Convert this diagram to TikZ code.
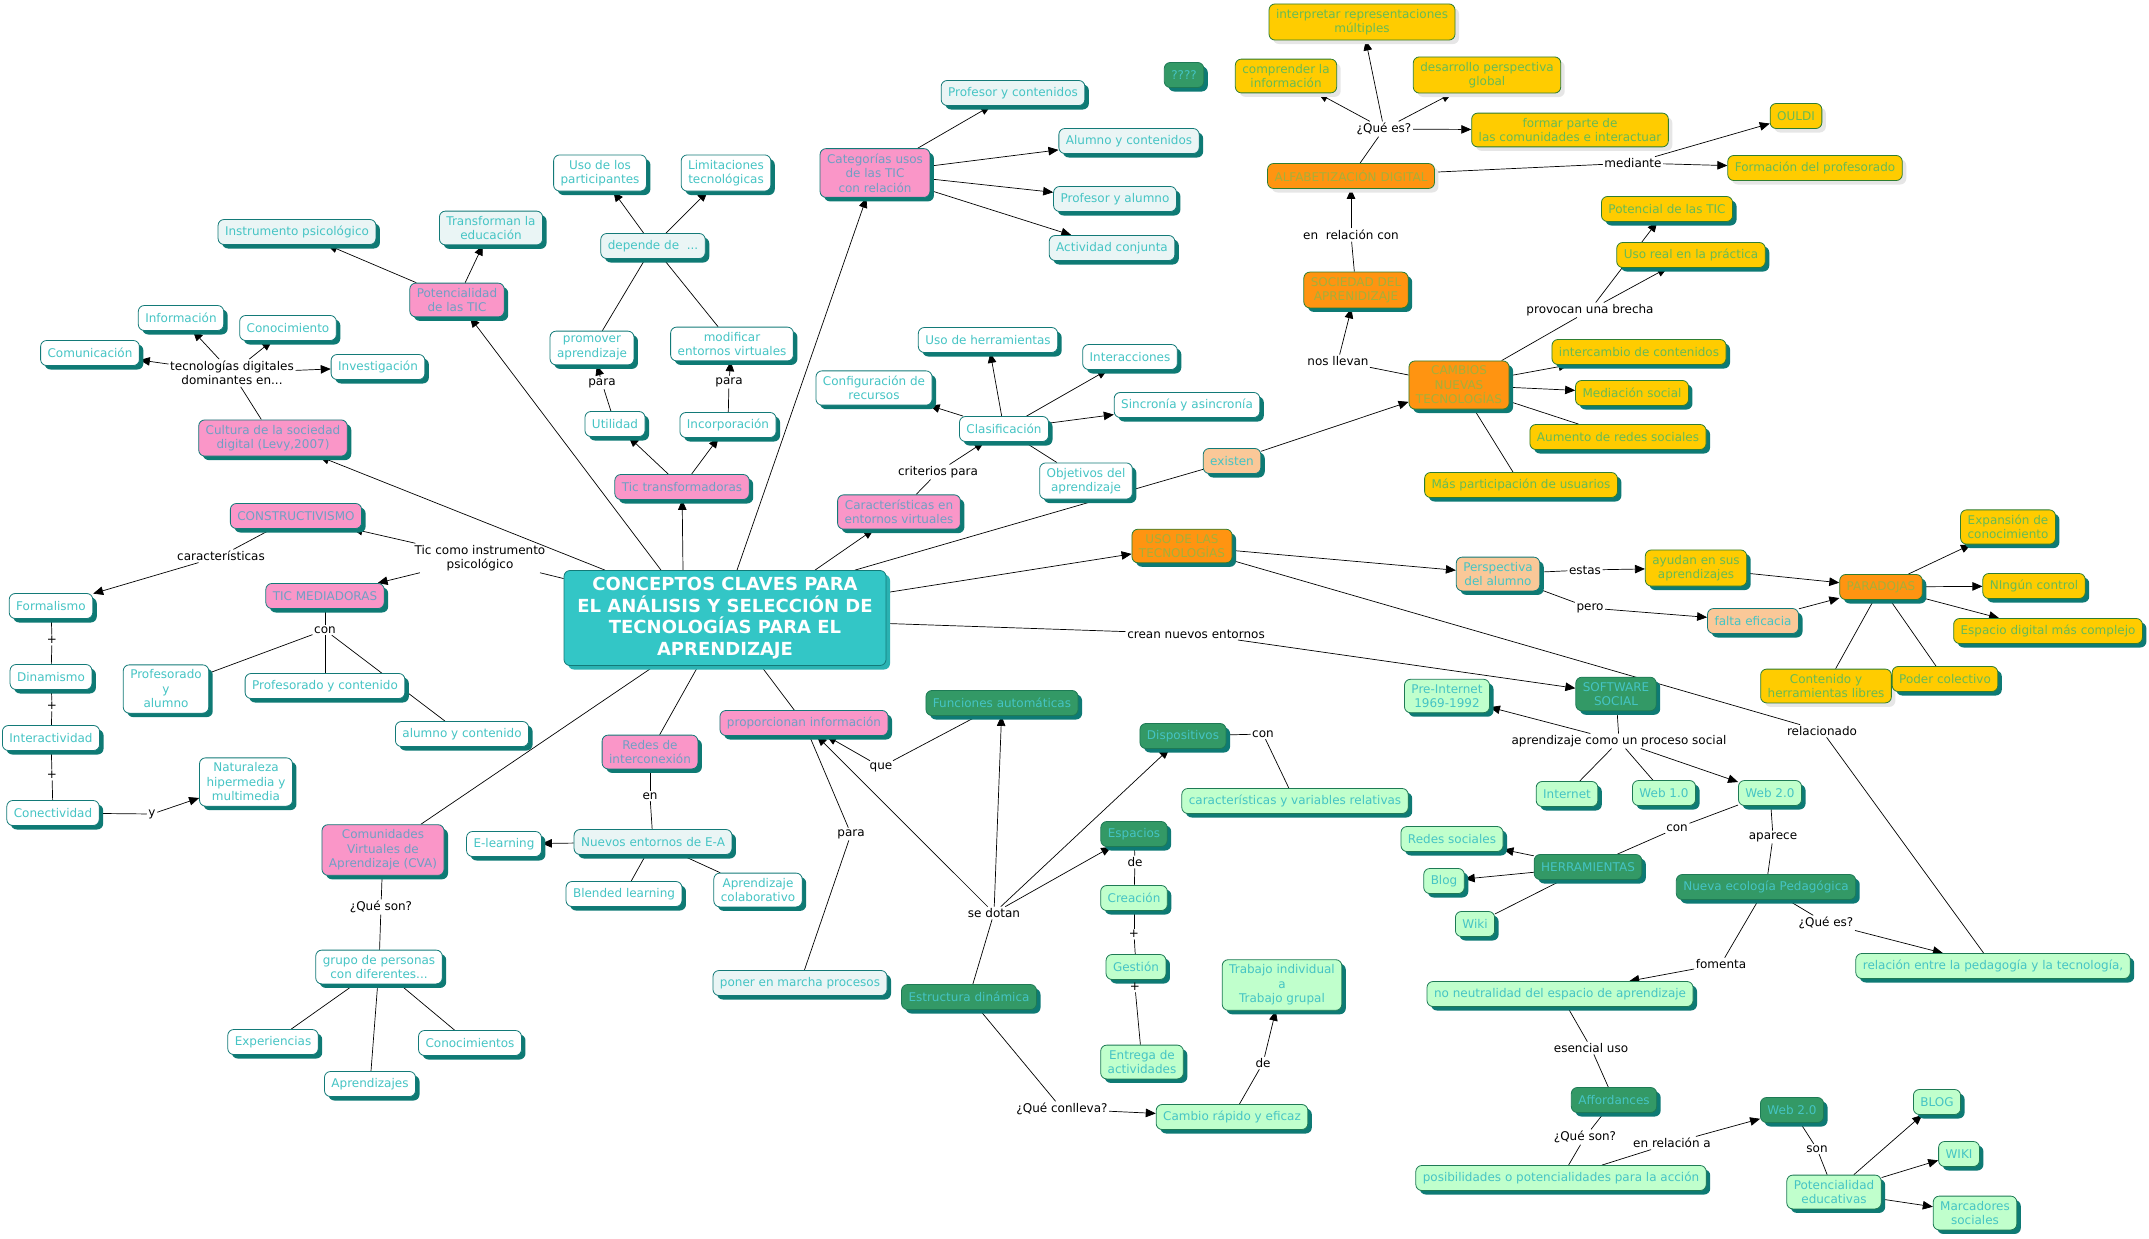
\documentclass[tikz,border=0pt]{standalone}
\usepackage{fontspec}
\setmainfont{DejaVu Sans}
\usetikzlibrary{shadows,arrows.meta}
\pgfdeclarelayer{background}
\pgfsetlayers{background,main}
\definecolor{tealtxt}{HTML}{45C4C4}
\definecolor{bordert}{HTML}{137A78}
\definecolor{shteal}{HTML}{0E7A74}
\definecolor{shgray}{HTML}{E6E6E6}
\definecolor{lightblue}{HTML}{EAF5F5}
\definecolor{pinkf}{HTML}{FA96C8}
\definecolor{pinktxt}{HTML}{6F9FC4}
\definecolor{orangef}{HTML}{FF9411}
\definecolor{orangetxt}{HTML}{A4B03A}
\definecolor{yellowf}{HTML}{FFCC00}
\definecolor{greentxt}{HTML}{66BB55}
\definecolor{ygborder}{HTML}{2E7D32}
\definecolor{peach}{HTML}{FAC898}
\definecolor{darkg}{HTML}{339966}
\definecolor{darkgb}{HTML}{1E7A55}
\definecolor{lightg}{HTML}{C0FFCC}
\definecolor{centralf}{HTML}{33C6C6}
\definecolor{cshadow}{HTML}{2AB2B2}
\newcommand\fsz{\fontsize{12}{14.5}\selectfont}
\tikzset{
  base/.style={rounded corners=6pt, draw=bordert, line width=0.8pt, align=center, font=\fsz,
    text=tealtxt, inner xsep=7pt, inner ysep=5pt, minimum height=25pt},
  shT/.style={drop shadow={shadow xshift=4pt,shadow yshift=-4pt,fill=shteal,opacity=1}},
  shG/.style={drop shadow={shadow xshift=4pt,shadow yshift=-4pt,fill=shgray,opacity=1}},
  wbox/.style={base, fill=white, shT},
  bbox/.style={base, fill=lightblue, shT},
  pbox/.style={base, fill=pinkf, text=pinktxt, shT},
  obox/.style={base, fill=orangef, text=orangetxt, draw=ygborder, shT},
  oboxg/.style={base, fill=orangef, text=orangetxt, draw=ygborder, shG},
  ybox/.style={base, fill=yellowf, text=greentxt, draw=ygborder, shT},
  yboxg/.style={base, fill=yellowf, text=greentxt, draw=ygborder, shG},
  cbox/.style={base, fill=peach, shT},
  dbox/.style={base, fill=darkg, draw=darkgb, shT},
  lbox/.style={base, fill=lightg, draw=darkgb, shT},
  lbl/.style={font=\fsz, text=black, inner sep=1.5pt, align=center},
  ln/.style={draw, line width=0.7pt},
  ar/.style={draw, line width=0.7pt, -{Triangle[length=10pt,width=8.5pt]}},
}
\begin{document}
\begin{tikzpicture}[x=1pt,y=-1pt]
\useasboundingbox (0,0) rectangle (2149,1239);
% central
\node[draw=bordert, line width=0.8pt, fill=centralf, rounded corners=6pt, text=white,
  font=\fontsize{18}{21.7}\selectfont\bfseries, align=center, minimum width=322pt,
  minimum height=95pt, drop shadow={shadow xshift=4pt,shadow yshift=-4pt,fill=cshadow,opacity=1}]
  (central) at (725,618) {CONCEPTOS CLAVES PARA\\EL ANÁLISIS Y SELECCIÓN DE\\TECNOLOGÍAS PARA EL\\APRENDIZAJE};
% left top
\node[bbox] (instr) at (297,232) {Instrumento psicológico};
\node[bbox] (transf) at (491,228) {Transforman la\\educación};
\node[pbox] (potic) at (457,300) {Potencialidad\\de las TIC};
\node[wbox] (info) at (181,318) {Información};
\node[wbox] (conoc) at (288,328) {Conocimiento};
\node[wbox] (comun) at (90,353) {Comunicación};
\node[wbox] (inves) at (378,367) {Investigación};
\node[pbox] (cultura) at (273,438) {Cultura de la sociedad\\digital (Levy,2007)};
\node[lbl] (lblTec) at (232,373) {tecnologías digitales\\dominantes en...};
% depende
\node[wbox] (usopart) at (600,173) {Uso de los\\participantes};
\node[wbox] (limit) at (726,173) {Limitaciones\\tecnológicas};
\node[bbox] (depende) at (653,246) {depende de~~...};
\node[wbox] (promover) at (592,348) {promover\\aprendizaje};
\node[wbox] (modif) at (732,344) {modificar\\entornos virtuales};
\node[lbl] (para1) at (602,383) {para};
\node[lbl] (para2) at (729,382) {para};
\node[wbox] (util) at (615,424) {Utilidad};
\node[wbox] (incorp) at (728,425) {Incorporación};
\node[pbox] (tictr) at (682,487) {Tic transformadoras};
% categorias
\node[pbox] (categ) at (875,173) {Categorías usos\\de las TIC\\con relación};
\node[bbox] (profcont) at (1013,93) {Profesor y contenidos};
\node[bbox] (alucont) at (1129,141) {Alumno y contenidos};
\node[bbox] (profalu) at (1115,199) {Profesor y alumno};
\node[bbox] (actconj) at (1112,248) {Actividad conjunta};
% clasificacion
\node[wbox] (usoherr) at (988,340) {Uso de herramientas};
\node[wbox] (config) at (874,388) {Configuración de\\recursos};
\node[wbox] (interac) at (1130,357) {Interacciones};
\node[wbox] (sincr) at (1187,405) {Sincronía y asincronía};
\node[wbox] (clasif) at (1004,429) {Clasificación};
\node[wbox] (objet) at (1086,481) {Objetivos del\\aprendizaje};
\node[lbl] (crit) at (938,472) {criterios para};
\node[pbox] (caract) at (899,512) {Características en\\entornos virtuales};
% top right
\node[dbox] (qqq) at (1184,75) {????};
\node[yboxg] (interp) at (1362,22) {interpretar representaciones\\múltiples};
\node[yboxg] (compr) at (1286,76) {comprender la\\información};
\node[yboxg] (desarr) at (1487,75) {desarrollo perspectiva\\global};
\node[yboxg] (formar) at (1570,130) {formar parte de\\las comunidades e interactuar};
\node[lbl] (queEs) at (1384,129) {¿Qué es?};
\node[oboxg] (alfa) at (1351,176) {ALFABETIZACIÓN DIGITAL};
\node[lbl] (mediante) at (1633,163) {mediante};
\node[yboxg] (ouldi) at (1796,116) {OULDI};
\node[yboxg] (formac) at (1815,168) {Formación del profesorado};
\node[lbl] (enrel) at (1351,235) {en~ relación con};
\node[obox] (socied) at (1356,290) {SOCIEDAD DEL\\APRENIDIZAJE};
\node[lbl] (nosll) at (1338,361) {nos llevan};
\node[obox] (cambios) at (1459,385) {CAMBIOS\\NUEVAS\\TECNOLOGÍAS};
\node[ybox] (potencial) at (1667,209) {Potencial de las TIC};
\node[ybox] (usoreal) at (1691,255) {Uso real en la práctica};
\node[lbl] (provocan) at (1590,310) {provocan una brecha};
\node[ybox] (intercam) at (1639,352) {intercambio de contenidos};
\node[ybox] (mediac) at (1632,393) {Mediación social};
\node[ybox] (aumento) at (1618,437) {Aumento de redes sociales};
\node[ybox] (maspart) at (1521,485) {Más participación de usuarios};
\node[cbox] (existen) at (1232,461) {existen};
% uso de las tecnologias
\node[obox] (usotec) at (1182,546) {USO DE LAS\\TECNOLOGÍAS};
\node[cbox] (perspec) at (1498,574) {Perspectiva\\del alumno};
\node[lbl] (estas) at (1585,570) {estas};
\node[lbl] (pero) at (1590,608) {pero};
\node[ybox] (ayudan) at (1696,568) {ayudan en sus\\aprendizajes};
\node[cbox] (falta) at (1753,621) {falta eficacia};
\node[obox] (parad) at (1881,587) {PARADOJAS};
\node[ybox] (expans) at (2008,527) {Expansión de\\conocimiento};
\node[ybox] (ningun) at (2034,586) {NIngún control};
\node[ybox] (espacio) at (2048,631) {Espacio digital más complejo};
\node[yboxg] (conten) at (1826,686) {Contenido y\\herramientas libres};
\node[ybox] (poder) at (1945,679) {Poder colectivo};
\node[lbl] (relacionado) at (1822,731) {relacionado};
\node[lbl] (crean) at (1196,634) {crean nuevos entornos};
% software social
\node[lbox] (preint) at (1447,696) {Pre-Internet\\1969-1992};
\node[dbox] (software) at (1616,694) {SOFTWARE\\SOCIAL};
\node[lbl] (aprsoc) at (1619,741) {aprendizaje como un proceso social};
\node[lbox] (internet) at (1567,794) {Internet};
\node[lbox] (web1) at (1664,793) {Web 1.0};
\node[lbox] (web2) at (1770,793) {Web 2.0};
\node[lbl] (con2) at (1677,828) {con};
\node[lbl] (aparece) at (1773,837) {aparece};
\node[lbox] (redsoc) at (1452,839) {Redes sociales};
\node[lbox] (blog) at (1444,881) {Blog};
\node[lbox] (wiki) at (1475,924) {Wiki};
\node[dbox] (herram) at (1588,867) {HERRAMIENTAS};
\node[dbox] (nueva) at (1766,887) {Nueva ecología Pedagógica};
\node[lbl] (queEs2) at (1826,923) {¿Qué es?};
\node[lbox] (relac) at (1993,966) {relación entre la pedagogía y la tecnología,};
\node[lbl] (fomenta) at (1721,964) {fomenta};
\node[lbox] (noneut) at (1560,994) {no neutralidad del espacio de aprendizaje};
\node[lbl] (esencial) at (1591,1048) {esencial uso};
\node[dbox] (afford) at (1614,1100) {Affordances};
\node[lbl] (queSon2) at (1585,1137) {¿Qué son?};
\node[lbox] (posib) at (1561,1178) {posibilidades o potencialidades para la acción};
\node[lbl] (enrela) at (1672,1143) {en relación a};
\node[dbox] (webdos) at (1792,1110) {Web 2.0};
\node[lbl] (son) at (1817,1149) {son};
\node[lbox] (potedu) at (1834,1192) {Potencialidad\\educativas};
\node[lbox] (blogc) at (1937,1102) {BLOG};
\node[lbox] (wikic) at (1959,1154) {WIKI};
\node[lbox] (marc) at (1975,1213) {Marcadores\\sociales};
% bottom middle
\node[dbox] (funcion) at (1002,703) {Funciones automáticas};
\node[pbox] (propor) at (804,723) {proporcionan información};
\node[lbl] (que) at (881,767) {que};
\node[lbl] (para3) at (851,834) {para};
\node[bbox] (poner) at (800,983) {poner en marcha procesos};
\node[dbox] (estruct) at (969,997) {Estructura dinámica};
\node[lbl] (sedotan) at (994,913) {se dotan};
\node[lbl] (conlleva) at (1062,1109) {¿Qué conlleva?};
\node[dbox] (dispos) at (1183,736) {Dispositivos};
\node[lbl] (conD) at (1263,734) {con};
\node[lbox] (caracvar) at (1295,801) {características y variables relativas};
\node[dbox] (espacios) at (1134,834) {Espacios};
\node[lbl] (deE) at (1135,862) {de};
\node[lbox] (creac) at (1134,898) {Creación};
\node[lbl] (plusC) at (1134,934) {+};
\node[lbox] (gestion) at (1136,967) {Gestión};
\node[lbl] (plusG) at (1135,987) {+};
\node[lbox] (entrega) at (1142,1062) {Entrega de\\actividades};
\node[lbox] (trabajo) at (1282,985) {Trabajo individual\\a\\Trabajo grupal};
\node[lbl] (deT) at (1263,1063) {de};
\node[lbox] (cambio) at (1232,1117) {Cambio rápido y eficaz};
\node[pbox] (redes) at (650,752) {Redes de\\interconexión};
\node[lbl] (en) at (650,796) {en};
\node[bbox] (nuevos) at (653,842) {Nuevos entornos de E-A};
\node[wbox] (blended) at (624,894) {Blended learning};
\node[wbox] (aprcol) at (758,890) {Aprendizaje\\colaborativo};
% bottom left
\node[pbox] (cva) at (383,850) {Comunidades\\Virtuales de\\Aprendizaje (CVA)};
\node[wbox] (elearn) at (504,844) {E-learning};
\node[lbl] (queSon1) at (381,907) {¿Qué son?};
\node[wbox] (grupo) at (379,967) {grupo de personas\\con diferentes...};
\node[wbox] (exper) at (273,1042) {Experiencias};
\node[wbox] (conocs) at (470,1043) {Conocimientos};
\node[wbox] (aprends) at (370,1084) {Aprendizajes};
% left middle
\node[pbox] (constr) at (296,516) {CONSTRUCTIVISMO};
\node[lbl] (lblCar) at (221,556) {características};
\node[lbl] (lblTic) at (480,558) {Tic como instrumento\\psicológico};
\node[pbox] (ticmed) at (325,596) {TIC MEDIADORAS};
\node[lbl] (con1) at (325,630) {con};
\node[wbox] (formal) at (51,606) {Formalismo};
\node[lbl] (plus1) at (52,640) {+};
\node[wbox] (dinam) at (51,677) {Dinamismo};
\node[lbl] (plus2) at (52,706) {+};
\node[wbox] (interact) at (51,738) {Interactividad};
\node[lbl] (plus3) at (52,775) {+};
\node[wbox] (conect) at (53,813) {Conectividad};
\node[lbl] (lblY) at (152,814) {y};
\node[wbox] (natur) at (246,782) {Naturaleza\\hipermedia y\\multimedia};
\node[wbox] (profal) at (166,689) {Profesorado\\y\\alumno};
\node[wbox] (profcon) at (325,686) {Profesorado y contenido};
\node[wbox] (alucon) at (462,734) {alumno y contenido};
% ---------- connectors ----------
\begin{pgfonlayer}{background}
\path (lblTic) edge[ln] (central) edge[ar] (constr) edge[ar] (ticmed);
\path (central) edge[ar] (cultura);
\path (lblTec) edge[ln] (cultura) edge[ar] (comun) edge[ar] (info) edge[ar] (conoc) edge[ar] (inves);
\path ([xshift=-64pt]central.north) edge[ar] (potic);
\path (potic) edge[ar] (instr) edge[ar] (transf);
\path ([xshift=-42pt]central.north) edge[ar] (tictr);
\path (tictr) edge[ar] (util) edge[ar] (incorp);
\path (para1) edge[ln] (util) edge[ar] (promover);
\path (para2) edge[ln] (incorp) edge[ar] (modif);
\path (depende) edge[ln] (promover) edge[ln] (modif) edge[ar] (usopart) edge[ar] (limit);
\path ([xshift=12pt]central.north) edge[ar] (categ);
\path (categ) edge[ar] (profcont) edge[ar] (alucont) edge[ar] (profalu) edge[ar] (actconj);
\path ([xshift=90pt]central.north) edge[ar] (caract);
\path (crit) edge[ln] (caract) edge[ar] (clasif);
\path (clasif) edge[ar] (config) edge[ar] (usoherr) edge[ar] (interac) edge[ar] (sincr) edge[ln] (objet);
\path ([xshift=130pt]central.north) edge[ln] (existen);
\path (existen) edge[ar] (cambios);
\path (nosll) edge[ln] (cambios) edge[ar] (socied);
\path (enrel) edge[ln] (socied) edge[ar] (alfa);
\path (queEs) edge[ln] (alfa) edge[ar] (compr) edge[ar] (interp) edge[ar] (desarr) edge[ar] (formar);
\path (mediante) edge[ln] (alfa) edge[ar] (ouldi) edge[ar] (formac);
\path (provocan) edge[ln] (cambios) edge[ar] (potencial) edge[ar] (usoreal);
\path (cambios) edge[ar] (intercam) edge[ar] (mediac) edge[ln] (aumento) edge[ln] (maspart);
\path (central) edge[ar] (usotec);
\path (usotec) edge[ar] (perspec);
\path (estas) edge[ln] (perspec) edge[ar] (ayudan);
\path (ayudan) edge[ar] (parad);
\path (pero) edge[ln] (perspec) edge[ar] (falta);
\path (falta) edge[ar] (parad);
\path (parad) edge[ar] (expans) edge[ar] (ningun) edge[ar] (espacio) edge[ln] (conten) edge[ln] (poder);
\path (relacionado) edge[ln] (usotec) edge[ln] (relac);
\path (crean) edge[ln] (central) edge[ar] (software);
\path (aprsoc) edge[ln] (software) edge[ar] (preint) edge[ln] (internet) edge[ln] (web1) edge[ar] (web2);
\path (con2) edge[ln] (web2) edge[ln] (herram);
\path (herram) edge[ar] (redsoc) edge[ar] (blog) edge[ln] (wiki);
\path (aparece) edge[ln] (web2) edge[ln] (nueva);
\path (queEs2) edge[ln] (nueva) edge[ar] (relac);
\path (fomenta) edge[ln] (nueva) edge[ar] (noneut);
\path (esencial) edge[ln] (noneut) edge[ln] (afford);
\path (queSon2) edge[ln] (afford) edge[ln] (posib);
\path (enrela) edge[ln] (posib) edge[ar] (webdos);
\path (son) edge[ln] (webdos) edge[ln] (potedu);
\path (potedu) edge[ar] (blogc) edge[ar] (wikic) edge[ar] (marc);
\path (central) edge[ln] (propor);
\path (para3) edge[ln] (propor) edge[ln] (poner);
\path (que) edge[ln] (funcion) edge[ar] (propor);
\path (sedotan) edge[ln] (estruct) edge[ar] (propor) edge[ar] (funcion) edge[ar] (dispos) edge[ar] (espacios);
\path (conD) edge[ln] (dispos) edge[ln] (caracvar);
\path (deE) edge[ln] (espacios) edge[ln] (creac);
\path (plusC) edge[ln] (creac) edge[ln] (gestion);
\path (plusG) edge[ln] (gestion) edge[ln] (entrega);
\path (conlleva) edge[ln] (estruct) edge[ar] (cambio);
\path (deT) edge[ln] (cambio) edge[ar] (trabajo);
\path (central) edge[ln] (redes);
\path (en) edge[ln] (redes) edge[ln] (nuevos);
\path (nuevos) edge[ar] (elearn) edge[ln] (blended) edge[ln] (aprcol);
\path (central) edge[ln] (cva);
\path (queSon1) edge[ln] (cva) edge[ln] (grupo);
\path (grupo) edge[ln] (exper) edge[ln] (aprends) edge[ln] (conocs);
\path (con1) edge[ln] (ticmed) edge[ln] (profal) edge[ln] (profcon) edge[ln] (alucon);
\path (lblCar) edge[ln] (constr) edge[ar] (formal);
\path (plus1) edge[ln] (formal) edge[ln] (dinam);
\path (plus2) edge[ln] (dinam) edge[ln] (interact);
\path (plus3) edge[ln] (interact) edge[ln] (conect);
\path (lblY) edge[ln] (conect) edge[ar] (natur);
\end{pgfonlayer}
\end{tikzpicture}
\end{document}
